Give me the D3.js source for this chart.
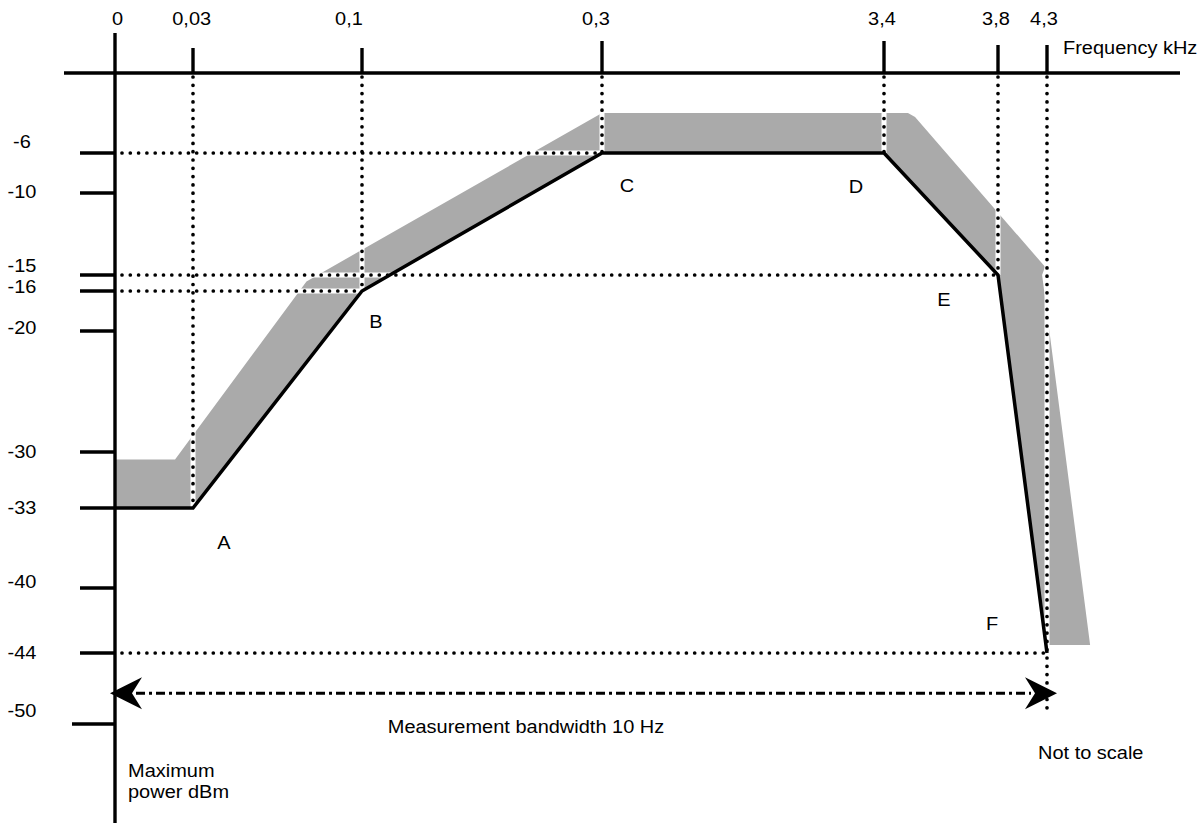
<!DOCTYPE html>
<html>
<head>
<meta charset="utf-8">
<script src="https://cdn.jsdelivr.net/npm/d3@7"></script>
<style>
  body { margin: 0; background: #fff; }
  text { font-family: Arial, "Liberation Sans", sans-serif; font-size: 18.5px; fill: #000; }
</style>
</head>
<body>
<svg></svg>
<script>
// axis ticks
const freqTicks = [0, 0.03, 0.1, 0.3, 3.4, 3.8, 4.3];
const freqLabels = ["0", "0,03", "0,1", "0,3", "3,4", "3,8", "4,3"];
const dbmTicks = [-6, -10, -15, -16, -20, -30, -33, -40, -44, -50];
const dbmLabels = ["-6", "-10", "-15", "-16", "-20", "-30", "-33", "-40", "-44", "-50"];

// limit mask A..F
const limitFreq = [0, 0.03, 0.1, 0.3, 3.4, 3.8, 4.3];
const limitDbm = [-33, -33, -16, -6, -6, -15, -44];
const pointNames = ["", "A", "B", "C", "D", "E", "F"];

// upper edge of the shaded band
const bandFreq = [0, 0.023, 0.077, 0.3, 3.484, 3.509, 4.28, 4.25, 4.74, 4.29];
const bandDbm = [-30.4, -30.4, -15.4, -2, -2, -2.4, -14.5, -15, -43.5, -43.5];

// dotted guides: [dBm, freq it runs to]
const guideDbm = [-6, -15, -16, -44];
const guideFreq = [0.3, 3.8, 0.1, 4.3];

const width = 1203, height = 823;

const svg = d3.select('svg')
    .attr('width', width)
    .attr('height', height);

// the drawing is not to scale, so both scales are piecewise
const x = d3.scaleLinear()
    .domain(freqTicks)
    .range([116, 193, 362, 602, 884, 998, 1047]);

const y = d3.scaleLinear()
    .domain(dbmTicks)
    .range([153, 193, 275, 291, 331, 452, 508, 588, 653, 724]);

const axisY = 73;
const topTickLen = [0, 25, 25, 32, 32, 28, 28];
const freqLabelDx = [1.5, -1.3, -13, -6, -2, -2, -3];
const dbmLabelDy = [-11.5, -1.5, -9, -4, -3, 0, 0, -6, 0, -13];
const pointDx = [0, 31, 14, 25, -28, -54, -55];
const pointDy = [0, 35, 31, 33, 34, 25, -29];

function label(g, px, py, txt, anchor) {
    return g.append('text')
        .attr('transform', `translate(${px},${py}) scale(1.08,1)`)
        .attr('text-anchor', anchor || 'start')
        .text(txt);
}

const line = d3.line().x(d => x(d[0])).y(d => y(d[1]));

// shaded band
const limitPts = d3.zip(limitFreq, limitDbm);
const bandPts = d3.zip(bandFreq, bandDbm).concat(limitPts.slice().reverse());
svg.append('path')
    .attr('d', line(bandPts) + 'Z')
    .attr('fill', '#aaaaaa');

// dotted guides
const guides = [];
freqTicks.forEach((f, i) => {
    if (i === 0) return;
    const bottom = i === freqTicks.length - 1 ? -48.8 : limitDbm[i];
    guides.push([[x(f), axisY + 4], [x(f), y(bottom)]]);
});
guideDbm.forEach((v, i) => {
    guides.push([[x(0) + 6, y(v)], [x(guideFreq[i]), y(v)]]);
});

const gGuide = svg.append('g');
gGuide.selectAll('line.under')
    .data(guides)
    .enter().append('line')
    .attr('class', 'under')
    .attr('x1', d => d[0][0]).attr('y1', d => d[0][1])
    .attr('x2', d => d[1][0]).attr('y2', d => d[1][1])
    .attr('stroke', '#fff')
    .attr('stroke-width', 5);
gGuide.selectAll('line.dots')
    .data(guides)
    .enter().append('line')
    .attr('class', 'dots')
    .attr('x1', d => d[0][0]).attr('y1', d => d[0][1])
    .attr('x2', d => d[1][0]).attr('y2', d => d[1][1])
    .attr('stroke', '#000')
    .attr('stroke-width', 3.7)
    .attr('stroke-linecap', 'round')
    .attr('stroke-dasharray', '0,8.3');

// axes
const gAxis = svg.append('g').attr('stroke', '#000').attr('stroke-width', 3.4);
gAxis.append('line')
    .attr('x1', 64).attr('x2', 1180)
    .attr('y1', axisY).attr('y2', axisY);
gAxis.append('line')
    .attr('x1', x(0) - 1).attr('x2', x(0) - 1)
    .attr('y1', 33).attr('y2', height);

gAxis.selectAll('line.xtick')
    .data(freqTicks.slice(1))
    .enter().append('line')
    .attr('class', 'xtick')
    .attr('x1', d => x(d)).attr('x2', d => x(d))
    .attr('y1', (d, i) => axisY - topTickLen[i + 1]).attr('y2', axisY);

gAxis.selectAll('line.ytick')
    .data(dbmTicks)
    .enter().append('line')
    .attr('class', 'ytick')
    .attr('x1', d => d === -50 ? 72 : 80).attr('x2', x(0) - 1)
    .attr('y1', d => y(d)).attr('y2', d => y(d));

// tick labels
freqTicks.forEach((f, i) => label(svg, x(f) + freqLabelDx[i], 25, freqLabels[i], 'middle'));
dbmTicks.forEach((v, i) => {
    label(svg, 22, y(v) + dbmLabelDy[i], dbmLabels[i], 'middle').attr('dy', '0.35em');
});
label(svg, 1063, 54, 'Frequency kHz');

// limit line
svg.append('path')
    .attr('d', line(limitPts))
    .attr('fill', 'none')
    .attr('stroke', '#000')
    .attr('stroke-width', 3.5)
    .attr('stroke-linejoin', 'miter');

// point labels
limitPts.forEach((p, i) => {
    if (!pointNames[i]) return;
    label(svg, x(p[0]) + pointDx[i], y(p[1]) + pointDy[i], pointNames[i], 'middle').attr('dy', '0.35em');
});

// measurement bandwidth arrow
const arrowY = y(-47.4);
const leftTip = x(0) - 6, rightTip = x(4.3) + 10;
svg.append('line')
    .attr('x1', leftTip + 26).attr('x2', rightTip - 26)
    .attr('y1', arrowY).attr('y2', arrowY)
    .attr('stroke', '#000')
    .attr('stroke-width', 3.2)
    .attr('stroke-dasharray', '9,4,3,4');

const head = (tip, dir) => {
    const p = d3.path();
    p.moveTo(tip, arrowY);
    p.lineTo(tip + dir * 32, arrowY - 16);
    p.lineTo(tip + dir * 22, arrowY);
    p.lineTo(tip + dir * 32, arrowY + 16);
    p.closePath();
    return p.toString();
};
svg.append('path').attr('d', head(leftTip, 1)).attr('fill', '#000');
svg.append('path').attr('d', head(rightTip, -1)).attr('fill', '#000');

label(svg, 526, 733, 'Measurement bandwidth 10 Hz', 'middle');
label(svg, 1038, 759, 'Not to scale');
label(svg, 128, 777, 'Maximum');
label(svg, 128, 798, 'power dBm');
</script>
</body>
</html>
